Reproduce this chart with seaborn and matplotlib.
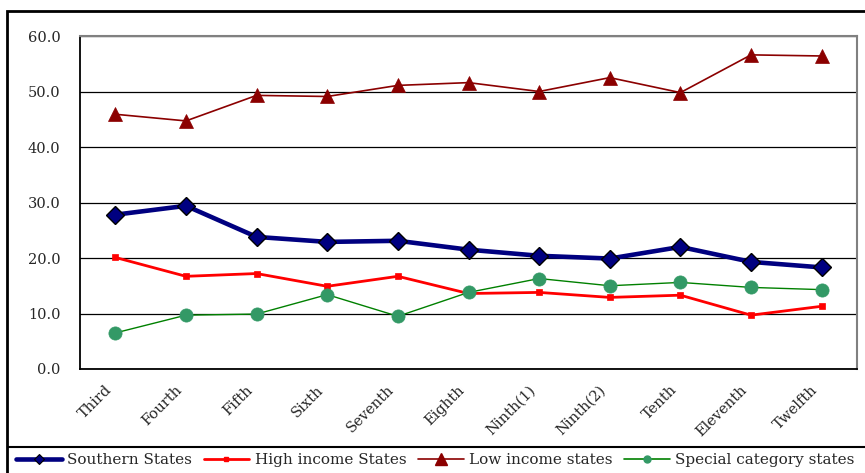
import numpy as np
import pandas as pd
import matplotlib
matplotlib.use("Agg")
import matplotlib.pyplot as plt
import matplotlib.transforms as mtransforms
from matplotlib.lines import Line2D
from matplotlib.patches import Rectangle
import seaborn as sns

# Plan periods and share values for each group of states
plans = ["Third", "Fourth", "Fifth", "Sixth", "Seventh", "Eighth",
         "Ninth(1)", "Ninth(2)", "Tenth", "Eleventh", "Twelfth"]
southern = [27.8, 29.4, 23.8, 22.9, 23.1, 21.5, 20.4, 19.9, 22.0, 19.3, 18.3]
high_income = [20.1, 16.7, 17.2, 14.9, 16.7, 13.6, 13.8, 12.9, 13.3, 9.7, 11.3]
low_income = [45.9, 44.7, 49.3, 49.1, 51.1, 51.6, 50.0, 52.5, 49.8, 56.6, 56.4]
special = [6.5, 9.7, 9.9, 13.4, 9.5, 13.8, 16.3, 15.0, 15.6, 14.7, 14.3]
y_ticks = [0, 10, 20, 30, 40, 50, 60]

sns.set_theme(style="white")
plt.rcParams["font.family"] = ["DejaVu Serif"]

pos = np.arange(len(plans))
df = pd.DataFrame({
    "pos": np.tile(pos, 4),
    "value": southern + high_income + low_income + special,
    "group": (["Southern States"] * len(plans) + ["High income States"] * len(plans)
              + ["Low income states"] * len(plans) + ["Special category states"] * len(plans)),
})

styles = {
    "Southern States": dict(color="#000080", lw=3.3, marker="D", ms=9, mfc="#000080", mec="black", mew=1.0),
    "High income States": dict(color="#FF0000", lw=2.0, marker="s", ms=4.5, mfc="#FF0000", mec="#FF0000", mew=0.5),
    "Low income states": dict(color="#8B0000", lw=1.2, marker="^", ms=9.5, mfc="#8B0000", mec="#8B0000", mew=0.5),
    "Special category states": dict(color="#008000", lw=1.0, marker="o", ms=9.5, mfc="#339966", mec="#339966", mew=0.5),
}

fig = plt.figure(figsize=(8.65, 4.73), dpi=100)
ax = fig.add_axes([80 / 865, 1 - 369 / 473, (857 - 80) / 865, (369 - 36) / 473])

for name, st in styles.items():
    sub = df[df["group"] == name]
    sns.lineplot(data=sub, x="pos", y="value", ax=ax, color=st["color"], linewidth=st["lw"],
                 marker=st["marker"], markersize=st["ms"], markerfacecolor=st["mfc"],
                 markeredgecolor=st["mec"], markeredgewidth=st["mew"], legend=False,
                 sort=False, errorbar=None)

ax.set_xlim(-0.5, len(plans) - 0.5)
ax.set_ylim(0, 60)
ax.set_yticks(y_ticks)
ax.set_yticklabels([f"{v:.1f}" for v in y_ticks], fontsize=10.5)
ax.set_xticks(pos)
ax.set_xticklabels(plans, fontsize=10.5, rotation=45, ha="right", va="top", rotation_mode="anchor")
ax.set_xticks(np.arange(-0.5, len(plans)), minor=True)
ax.tick_params(axis="x", which="major", length=0, pad=10)
ax.tick_params(axis="x", which="minor", length=5, width=1, color="black", direction="out")
ax.tick_params(axis="y", which="major", length=5, width=1, color="black", direction="out", pad=9)
ax.set_xlabel("")
ax.set_ylabel("")

shift = mtransforms.ScaledTranslation(-11 / 100, 0, fig.dpi_scale_trans)
for lab in ax.get_xticklabels():
    lab.set_transform(lab.get_transform() + shift)

ax.yaxis.grid(True, color="black", linewidth=0.9)
ax.set_axisbelow(True)
for side in ("left", "bottom"):
    ax.spines[side].set_color("black")
    ax.spines[side].set_linewidth(1.3)
for side in ("top", "right"):
    ax.spines[side].set_color("#808080")
    ax.spines[side].set_linewidth(1.5)

# chart frame and legend divider
fig.add_artist(Rectangle((7 / 865, -0.2), 1.2, 1.2 - 11 / 473, transform=fig.transFigure,
                         fill=False, edgecolor="black", linewidth=2))
fig.add_artist(Line2D([8 / 865, 1.0], [1 - 447 / 473] * 2, transform=fig.transFigure,
                      color="black", linewidth=1.5))

handles = [
    Line2D([], [], color="#000080", lw=3.3, marker="D", ms=5, mfc="#000080", mec="black", mew=0.8),
    Line2D([], [], color="#FF0000", lw=2.0, marker="s", ms=3.5, mfc="#FF0000", mec="#FF0000"),
    Line2D([], [], color="#8B0000", lw=1.2, marker="^", ms=8, mfc="#8B0000", mec="#8B0000"),
    Line2D([], [], color="#008000", lw=1.2, marker="o", ms=5, mfc="#339966", mec="#339966"),
]
fig.legend(handles, list(styles.keys()), loc="center left",
           bbox_to_anchor=(16 / 865, 1 - 460 / 473), ncol=4, frameon=False, fontsize=11,
           handlelength=3.0, handletextpad=0.35, columnspacing=0.75, borderpad=0, borderaxespad=0)

fig.savefig("out.png", dpi=100)
